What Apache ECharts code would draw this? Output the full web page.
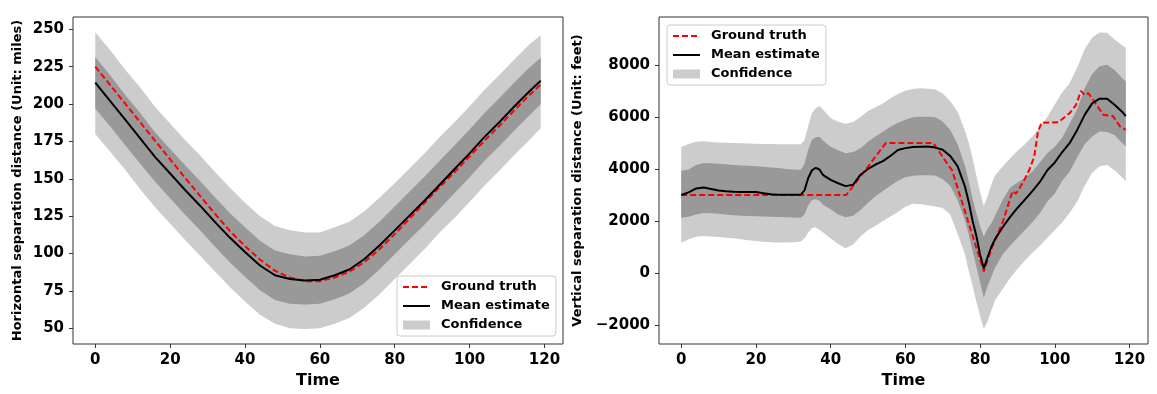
<!DOCTYPE html>
<html><head><meta charset="utf-8">
<script src="https://cdn.jsdelivr.net/npm/echarts@6/dist/echarts.min.js"></script>
<style>html,body{margin:0;padding:0;background:#fff}#c{width:1157px;height:394px}</style>
</head><body><div id="c"></div><script>
// ---------- Left panel: horizontal separation (miles) ----------
const timeL = [0,4,8,12,16,20,24,28,32,36,40,44,48,52,56,60,64,68,72,76,80,84,88,92,96,100,104,108,112,116,119];
const truthL = [225,212.6,200.2,187.8,175.4,163,150.6,138.5,126.5,115,105,96,88.5,84,81.5,81.5,84,88,94.5,103,113,123.5,134,144.5,154.5,165,175.5,185.5,196,206,213];
const meanL = [214.3,201.9,189.5,177,164.5,153.5,142.5,132,121,110.5,101,92,85.5,83,82,82.5,85.5,89.5,96.5,105.5,115.5,125.5,135.5,146,156.5,167,178,188,198.5,208.5,215.5];
const lightHiL = [248,236,223,211,198,187,176,165.5,154.5,144,134,125,118.5,115.5,114,114,117.5,121.5,128.5,137.5,147,157,167,178,188,198.5,209.5,219.5,230,240,246];
const darkHiL = [231.5,219,206,194,181,170,159,148.5,137.5,127,117.5,108.5,102,99.5,98,98.5,101.5,105.5,112.5,121.5,131.5,141.5,151.5,162,172.5,183,194,204,214.5,224.5,231];
const darkLoL = [197,185,172.5,160,148,137,126,115.5,104.5,94,84.5,75.5,69,66.5,66,66.5,69.5,73.5,80.5,89.5,99.5,109.5,119.5,130,140.5,151,162,172,182.5,192.5,200];
const lightLoL = [180,168,156,143,131,120,109,98.5,88,77.5,68,59,53,50,49.5,50,53,57,64,73,83,93,103,114,124,134.5,145.5,155.5,166,176,184];

// ---------- Right panel: vertical separation (feet) ----------
const timeR = [0,2,4,6,8,10,12,14,16,18,20,22,24,26,28,30,32,33,34,35,36,37,38,40,42,44,46,48,50,52,54,56,58,60,62,64,66,68,70,72,74,76,77,78,79,80,81,82,83,84,86,88,90,92,94,96,98,100,102,104,106,108,110,112,114,116,118,119];
const meanR = [3000,3100,3250,3290,3230,3170,3140,3120,3110,3110,3110,3070,3030,3010,3010,3010,3010,
  3180,3650,3950,4040,3980,3760,
  3580,3450,3340,3390,3780,4000,4170,4300,4500,4730,4800,4840,4850,4860,4820,4740,4500,4100,3300,
  2700,2000,1430,700,180,600,1000,1300,
  1750,2150,2500,2820,3150,3500,3950,4250,4650,5000,5500,6080,6520,6700,6700,6470,6200,
  6030];
const lightHiR = [4840,4960,5050,5060,5040,5020,5010,5000,4990,4980,4970,4960,4955,4950,4950,4950,4950,
  5100,5650,6150,6330,6420,6280,
  5950,5810,5740,5800,6000,6230,6370,6520,6720,6880,7010,7070,7100,7080,7050,6900,6600,6200,5450,
  5000,4400,3750,3100,2580,2950,3400,3750,
  4080,4400,4700,4950,5250,5600,6000,6480,6950,7300,7900,8600,9050,9240,9230,8980,8750,
  8660];
const darkHiR = [3930,3980,4150,4230,4220,4200,4180,4150,4130,4120,4100,4080,4060,4040,4000,3980,3970,
  4200,4750,5120,5220,5240,5080,
  4850,4720,4600,4650,4800,5050,5250,5430,5620,5780,5890,5990,6010,6010,5990,5820,5500,4950,4100,
  3500,2850,2300,1800,1400,1700,1900,2200,
  2800,3280,3480,3650,3900,4250,4600,4850,5200,5750,6300,7100,7650,7950,8000,7800,7500,
  7370];
const darkLoR = [2120,2160,2250,2310,2300,2280,2250,2220,2200,2190,2180,2170,2160,2150,2140,2130,2120,
  2250,2600,2800,2840,2780,2620,
  2450,2250,2140,2200,2420,2700,2950,3150,3350,3550,3680,3740,3760,3760,3750,3600,3350,2800,2000,
  1450,850,250,-350,-950,-500,-150,200,
  700,1050,1350,1650,1950,2300,2750,3050,3550,3900,4450,4950,5250,5440,5420,5300,5000,
  4870];
const lightLoR = [1160,1300,1390,1420,1400,1380,1360,1340,1300,1260,1230,1200,1180,1170,1170,1180,1210,
  1330,1560,1730,1760,1650,1560,
  1330,1120,950,1100,1400,1650,1820,2000,2170,2350,2550,2660,2640,2600,2560,2500,2250,1500,700,
  50,-500,-1100,-1650,-2150,-1850,-1450,-1050,
  -620,-200,150,480,780,1050,1350,1650,1950,2320,2750,3350,3850,4100,4150,3950,3680,
  3520];
const truthTR = [0,44.2,54.8,67.5,71,72.5,81,83.3,86,88.7,89.6,91.4,93.2,94.5,95.5,96.5,97.6,101,104,105.7,107,108,109,113,115.5,117.5,119];
const truthR = [3000,3000,5000,5000,4250,3950,60,1030,1930,3150,3050,3460,3970,4480,5440,5790,5780,5800,6150,6460,7000,6840,6910,6080,6040,5630,5500];

// ---------- Tick labels ----------
const xTicks = [0,20,40,60,80,100,120];
const yTicksL = [50,75,100,125,150,175,200,225,250];
const yTicksR = [-2000,0,2000,4000,6000,8000];
const legendNames = ['Ground truth','Mean estimate','Confidence'];

const FONT = 'DejaVu Sans';
const pairs = (t, v) => t.map((x, i) => [x, v[i]]);

// A confidence band drawn as one polygon through the axes' own coordinate mapping
function band(idx, t, lo, hi, color, name, z) {
  return {
    type:'custom', name, xAxisIndex:idx, yAxisIndex:idx, silent:true, z,
    itemStyle:{color},
    encode:{x:0, y:[1,2]},
    data: t.map((x, i) => [x, lo[i], hi[i]]),
    renderItem(params, api) {
      if (params.dataIndex !== 0) return null;
      const n = params.dataInsideLength;
      const top = [], bot = [];
      for (let i = 0; i < n; i++) {
        top.push(api.coord([api.value(0, i), api.value(2, i)]));
        bot.push(api.coord([api.value(0, i), api.value(1, i)]));
      }
      return {type:'polygon', shape:{points: top.concat(bot.reverse())}, style:{fill: color, stroke: null}};
    }
  };
}
function lines(idx, tT, vT, tM, vM) {
  return [
    {type:'line', name:'Ground truth', xAxisIndex:idx, yAxisIndex:idx, data:pairs(tT, vT), symbol:'none',
      lineStyle:{color:'#ff0000', width:2, type:[6,3]}, itemStyle:{color:'#ff0000'}, z:5},
    {type:'line', name:'Mean estimate', xAxisIndex:idx, yAxisIndex:idx, data:pairs(tM, vM), symbol:'none',
      lineStyle:{color:'#000000', width:2}, itemStyle:{color:'#000000'}, z:6}
  ];
}
const tickFont = {fontFamily:FONT, fontWeight:'bold', fontSize:15, color:'#000'};
function xAxis(idx) {
  return {type:'value', gridIndex:idx, min:-5.95, max:124.95, name:'Time', nameLocation:'middle', nameGap:29,
    nameTextStyle:{fontFamily:FONT, fontWeight:'bold', fontSize:16, color:'#000'},
    axisLine:{show:false, onZero:false}, splitLine:{show:false},
    axisTick:{show:true, length:4, lineStyle:{color:'#333', width:1}, customValues:xTicks},
    axisLabel:Object.assign({margin:9, customValues:xTicks}, tickFont)};
}
function yAxis(idx, min, max, ticks, name, gap, fmt) {
  return {type:'value', gridIndex:idx, min, max, name, nameLocation:'middle', nameGap:gap,
    nameTextStyle:{fontFamily:FONT, fontWeight:'bold', fontSize:13, color:'#000'},
    axisLine:{show:false, onZero:false}, splitLine:{show:false},
    axisTick:{show:true, length:4, lineStyle:{color:'#333', width:1}, customValues:ticks},
    axisLabel:Object.assign({margin:9, customValues:ticks, formatter:fmt}, tickFont)};
}
function legend(left, top) {
  return {orient:'vertical', left, top, itemWidth:27, itemHeight:9, itemGap:5, padding:[4,6,4,5],
    selectedMode:false, backgroundColor:'rgba(255,255,255,0.8)', borderColor:'#cccccc', borderWidth:1, borderRadius:3,
    textStyle:{fontFamily:FONT, fontWeight:'bold', fontSize:13, color:'#000', lineHeight:14, padding:[0,0,0,6]},
    data:[
      {name:legendNames[0], itemStyle:{opacity:0}},
      {name:legendNames[1], itemStyle:{opacity:0}},
      {name:legendNames[2], icon:'rect', itemStyle:{color:'#cccccc', borderWidth:0}}
    ]};
}

const chart = echarts.init(document.getElementById('c'), null, {renderer:'canvas'});
chart.setOption({
  animation:false,
  backgroundColor:'#ffffff',
  grid:[
    {left:73, top:17, width:490, height:327, show:true, borderColor:'#333', borderWidth:1, backgroundColor:'transparent', z:10},
    {left:659, top:17, width:489, height:328, show:true, borderColor:'#333', borderWidth:1, backgroundColor:'transparent', z:10}
  ],
  xAxis:[xAxis(0), xAxis(1)],
  yAxis:[
    yAxis(0, 39.5, 258.2, yTicksL, 'Horizontal separation distance (Unit: miles)', 49, v => String(v)),
    yAxis(1, -2728, 9840, yTicksR, 'Vertical separation distance (Unit: feet)', 74.5, v => v < 0 ? '\u2212' + Math.abs(v) : String(v))
  ],
  legend:[legend(397, 276), legend(667, 25)],
  series:[
    band(0, timeL, lightLoL, lightHiL, '#cccccc', 'Confidence', 1),
    band(0, timeL, darkLoL, darkHiL, '#999999', 'Confidence inner', 2),
    ...lines(0, timeL, truthL, timeL, meanL),
    band(1, timeR, lightLoR, lightHiR, '#cccccc', 'Confidence', 1),
    band(1, timeR, darkLoR, darkHiR, '#999999', 'Confidence inner', 2),
    ...lines(1, truthTR, truthR, timeR, meanR)
  ]
});
</script></body></html>
